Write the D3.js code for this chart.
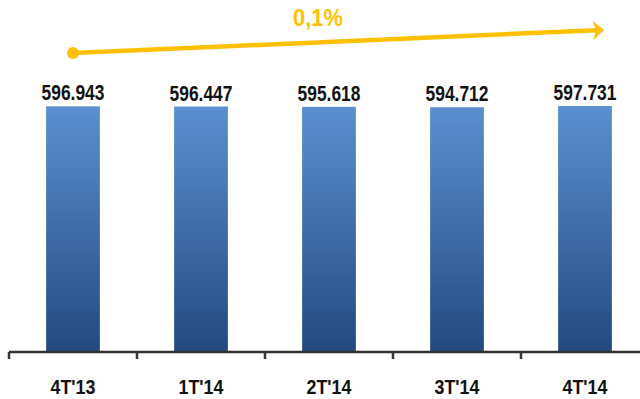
<!DOCTYPE html>
<html>
<head>
<meta charset="utf-8">
<script src="https://cdn.jsdelivr.net/npm/d3@7"></script>
<style>
  body { margin: 0; background: #fff; }
  svg text { font-family: "Liberation Sans", Arial, sans-serif; font-weight: bold; }
</style>
</head>
<body>
<div id="chart"></div>
<script>
var quarters = ["4T'13", "1T'14", "2T'14", "3T'14", "4T'14"];
var totals = [596.943, 596.447, 595.618, 594.712, 597.731];
var growthLabel = "0,1%";

var width = 640, height = 399;
var margin = {top: 106, right: -9, bottom: 47, left: 9};

var svg = d3.select("#chart").append("svg")
    .attr("width", width)
    .attr("height", height);

var x = d3.scaleBand()
    .domain(quarters)
    .range([margin.left, width - margin.right])
    .paddingInner(0.58)
    .paddingOuter(0.29);

var y = d3.scaleLinear()
    .domain([0, d3.max(totals)])
    .range([height - margin.bottom, margin.top]);

var defs = svg.append("defs");
var grad = defs.append("linearGradient")
    .attr("id", "barGrad")
    .attr("x1", 0).attr("y1", 0).attr("x2", 0).attr("y2", 1);
grad.append("stop").attr("offset", "0%").attr("stop-color", "#5b8fd1");
grad.append("stop").attr("offset", "100%").attr("stop-color", "#244a80");

svg.selectAll(".bar")
    .data(totals)
    .enter().append("rect")
    .attr("class", "bar")
    .attr("x", function (d, i) { return x(quarters[i]); })
    .attr("y", function (d) { return y(d); })
    .attr("width", x.bandwidth())
    .attr("height", function (d) { return y(0) - y(d); })
    .attr("fill", "url(#barGrad)");

// narrow bold text, like Arial Narrow
svg.selectAll(".val")
    .data(totals)
    .enter().append("text")
    .attr("class", "val")
    .attr("transform", function (d, i) {
        return "translate(" + (x(quarters[i]) + x.bandwidth() / 2) + "," + (y(d) - 6) + ") scale(0.79,1)";
    })
    .attr("text-anchor", "middle")
    .attr("font-size", "22px")
    .attr("fill", "#111")
    .text(function (d) { return d3.format(".3f")(d); });

// axis: tick marks at band boundaries
var step = x.step();
var xAxis = svg.append("g")
    .attr("transform", "translate(0," + y(0) + ")");
xAxis.append("line")
    .attr("x1", margin.left).attr("x2", width)
    .attr("stroke", "#333").attr("stroke-width", 2.5);
xAxis.selectAll(".tick")
    .data(quarters)
    .enter().append("line")
    .attr("x1", function (d) { return x(d) - step * 0.29; })
    .attr("x2", function (d) { return x(d) - step * 0.29; })
    .attr("y1", 0).attr("y2", 7)
    .attr("stroke", "#333").attr("stroke-width", 2.5);
xAxis.selectAll(".lbl")
    .data(quarters)
    .enter().append("text")
    .attr("transform", function (d) {
        return "translate(" + (x(d) + x.bandwidth() / 2) + ",42) scale(0.85,1)";
    })
    .attr("text-anchor", "middle")
    .attr("font-size", "21px")
    .attr("fill", "#111")
    .text(function (d) { return d; });

// growth arrow
var gold = "#ffc000";
defs.append("marker")
    .attr("id", "arrowHead")
    .attr("markerUnits", "userSpaceOnUse")
    .attr("viewBox", "0 0 11 19")
    .attr("refX", 9).attr("refY", 9.5)
    .attr("markerWidth", 11).attr("markerHeight", 19)
    .attr("orient", "auto")
    .append("path")
    .attr("d", "M0,0 L11,9.5 L0,19 L3,9.5 Z")
    .attr("fill", gold);

var ax0 = x(quarters[0]) + x.bandwidth() / 2;
var ax1 = x(quarters[quarters.length - 1]) + x.bandwidth() / 2 + 17;
svg.append("line")
    .attr("x1", ax0).attr("y1", 53)
    .attr("x2", ax1).attr("y2", 30)
    .attr("stroke", gold).attr("stroke-width", 4.5)
    .attr("marker-end", "url(#arrowHead)");
svg.append("circle")
    .attr("cx", ax0).attr("cy", 53).attr("r", 6)
    .attr("fill", gold);
svg.append("text")
    .attr("transform", "translate(318,26) scale(0.91,1)")
    .attr("text-anchor", "middle")
    .attr("font-size", "24px")
    .attr("fill", gold)
    .text(growthLabel);
</script>
</body>
</html>
